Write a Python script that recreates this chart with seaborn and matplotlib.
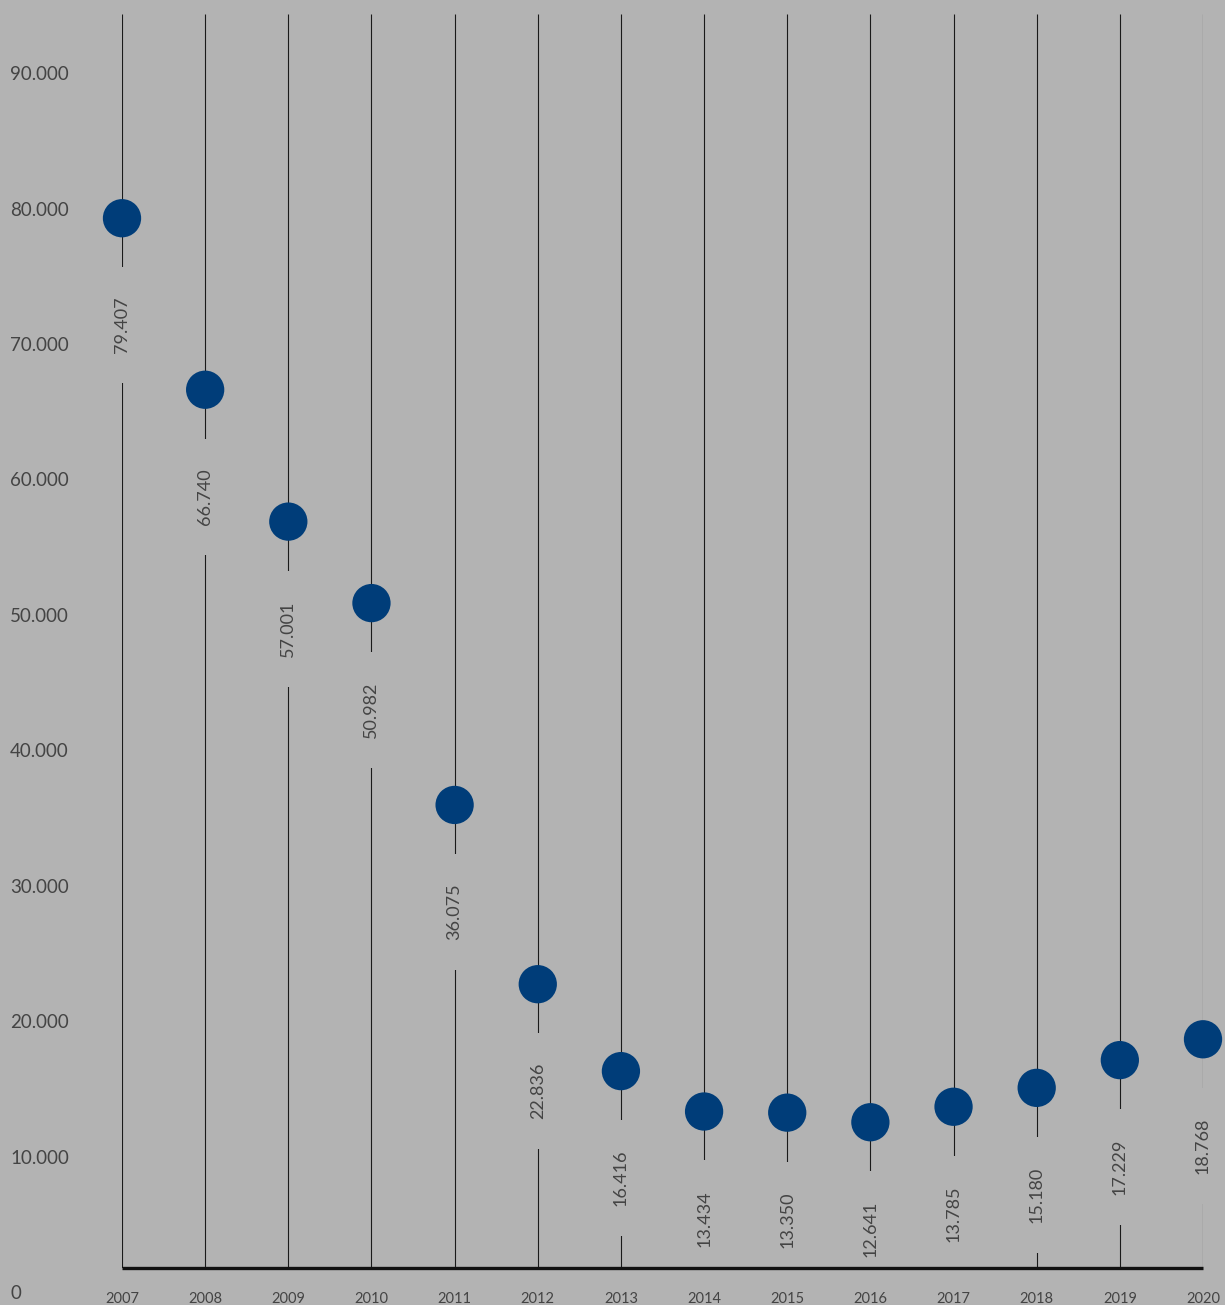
import matplotlib
matplotlib.use("Agg")
import matplotlib.pyplot as plt
import matplotlib.transforms as mtransforms
import pandas as pd
import seaborn as sns

# data
years = [2007, 2008, 2009, 2010, 2011, 2012, 2013, 2014, 2015, 2016, 2017, 2018, 2019, 2020]
values = [79407, 66740, 57001, 50982, 36075, 22836, 16416, 13434, 13350, 12641, 13785, 15180, 17229, 18768]
y_ticks = [0, 10000, 20000, 30000, 40000, 50000, 60000, 70000, 80000, 90000]

df = pd.DataFrame({"year": years, "value": values})

bg = "#b3b3b3"
dot = "#003d79"
txt = "#444444"
font = ["Lato", "DejaVu Sans"]

plt.rcParams["font.family"] = font

fig = plt.figure(figsize=(12.25, 13.05), dpi=100, facecolor=bg)
W, H = 1225, 1305
ax = fig.add_axes([122 / W, (H - 1268) / H, (1203 - 122) / W, (1268 - 14) / H])
ax.set_facecolor(bg)

# vertical lines for each year
ax.vlines(df["year"], 1876, 94490, color="#1a1a1a", lw=0.8, zorder=1)

# the dots
sns.scatterplot(data=df, x="year", y="value", s=760, color=dot, edgecolor="none",
                ax=ax, zorder=3, clip_on=False, legend=False)

# value labels below each dot (box hides the line behind)
for yr, v in zip(years, values):
    lab = f"{v:,}".replace(",", ".")
    ax.annotate(lab, xy=(yr, v), xytext=(0, -77), textcoords="offset points",
                rotation=90, ha="center", va="center", fontsize=13, color=txt,
                bbox=dict(boxstyle="square,pad=1.65", fc=bg, ec="none"), zorder=2)

# thick baseline
ax.hlines(1876, years[0], years[-1], color="#111111", lw=2.4, zorder=4, clip_on=False)

ax.set_xlim(2007, 2020)
ax.set_ylim(1876, 94490)
for s in ax.spines.values():
    s.set_visible(False)

ax.set_xticks(years)
ax.set_xticklabels([str(y) for y in years], fontsize=10.5, color=txt)
ax.tick_params(axis="x", length=0, pad=17)
ax.set_yticks([])
ax.set_xlabel("")
ax.set_ylabel("")

trans = mtransforms.blended_transform_factory(fig.transFigure, ax.transData)
for t in y_ticks:
    lab = f"{t:,}".replace(",", ".")
    ax.text(10 / W, t, lab, transform=trans, ha="left", va="center",
            fontsize=13.5, color=txt, clip_on=False)

fig.savefig("out.png", dpi=100, facecolor=bg)
